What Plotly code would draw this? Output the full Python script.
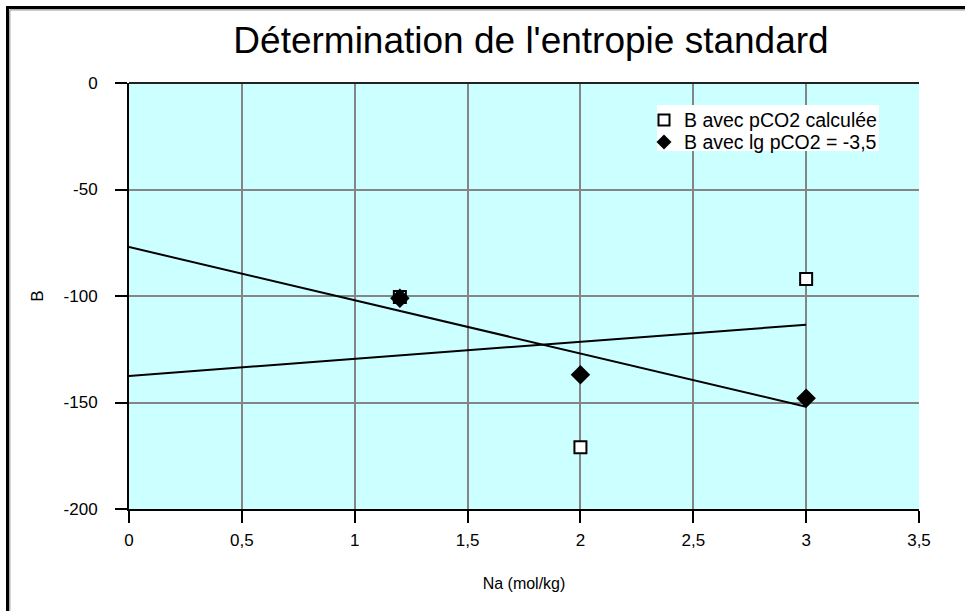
import plotly.graph_objects as go

# ---- data ----
na_values = [1.2, 2.0, 3.0]
b_pco2_calc = [-100.5, -171, -92]
b_lg_pco2 = [-101, -137, -148]

fit_x = [0, 3]
fit_lg_pco2 = [-77, -152]      # trend line for "B avec lg pCO2 = -3,5"
fit_pco2_calc = [-137.5, -113.5]  # trend line for "B avec pCO2 calculée"

series_names = ["B avec pCO2 calculée", "B avec lg pCO2 = -3,5"]

x_ticks = [0, 0.5, 1, 1.5, 2, 2.5, 3, 3.5]
x_tick_labels = ["0", "0,5", "1", "1,5", "2", "2,5", "3", "3,5"]
y_ticks = [0, -50, -100, -150, -200]
y_tick_labels = ["0", "-50", "-100", "-150", "-200"]

FONT = "Liberation Sans, Arial, sans-serif"
W, H = 965, 611
L, R, T, B = 129, 46, 83, 102
PW, PH = W - L - R, H - T - B


def px(xp):
    return (xp - L) / PW


def py(yp):
    return 1 - (yp - T) / PH


fig = go.Figure()

fig.add_trace(go.Scatter(
    x=fit_x, y=fit_lg_pco2, mode="lines",
    line=dict(color="black", width=2), showlegend=False, hoverinfo="skip"))
fig.add_trace(go.Scatter(
    x=fit_x, y=fit_pco2_calc, mode="lines",
    line=dict(color="black", width=2), showlegend=False, hoverinfo="skip"))

fig.add_trace(go.Scatter(
    x=na_values, y=b_pco2_calc, mode="markers", name=series_names[0],
    marker=dict(symbol="square", size=12, color="white",
                line=dict(color="black", width=2))))
fig.add_trace(go.Scatter(
    x=na_values, y=b_lg_pco2, mode="markers", name=series_names[1],
    marker=dict(symbol="diamond", size=15, color="black",
                line=dict(color="black", width=0))))

axis_common = dict(
    showline=True, linecolor="black", linewidth=2,
    ticks="outside", ticklen=12, tickwidth=2, tickcolor="black",
    showgrid=True, gridcolor="#858585", gridwidth=2,
    zeroline=False, tickfont=dict(family=FONT, size=17, color="black"),
)

fig.update_xaxes(range=[0, 3.5], tickvals=x_ticks, ticktext=x_tick_labels,
                 ticklabelstandoff=3,
                 title=dict(text="Na (mol/kg)", font=dict(family=FONT, size=16, color="black"),
                            standoff=28),
                 **axis_common)
fig.update_yaxes(range=[-200, 0], tickvals=y_ticks, ticktext=y_tick_labels,
                 ticklabelstandoff=14,
                 title=dict(text="B", font=dict(family=FONT, size=17, color="black"),
                            standoff=16),
                 **axis_common)

# legend drawn manually (white box, symbols, labels)
lg_left, lg_right, lg_top, lg_bottom = 657, 879, 105, 151
row_y = [120, 142]
sym_x = 664
text_x = 682

shapes = [
    # top border of plot area
    dict(type="line", xref="paper", yref="paper", x0=0, x1=1, y0=1, y1=1,
         line=dict(color="#222", width=2)),
    # legend white box
    dict(type="rect", xref="paper", yref="paper", x0=px(lg_left), x1=px(lg_right),
         y0=py(lg_bottom), y1=py(lg_top), fillcolor="white", line=dict(width=0),
         layer="above"),
    # legend square symbol
    dict(type="rect", xref="paper", yref="paper",
         x0=px(sym_x - 5.5), x1=px(sym_x + 5.5),
         y0=py(row_y[0] + 5.5), y1=py(row_y[0] - 5.5),
         fillcolor="white", line=dict(color="black", width=2), layer="above"),
    # legend diamond symbol
    dict(type="path", xref="paper", yref="paper",
         path=(f"M {px(sym_x)} {py(row_y[1] - 7.5)} L {px(sym_x + 7.5)} {py(row_y[1])} "
               f"L {px(sym_x)} {py(row_y[1] + 7.5)} L {px(sym_x - 7.5)} {py(row_y[1])} Z"),
         fillcolor="black", line=dict(color="black", width=0), layer="above"),
    # outer frame (black + grey)
    dict(type="line", xref="paper", yref="paper", x0=px(7.5), x1=px(7.5),
         y0=py(6), y1=py(700), line=dict(color="black", width=3)),
    dict(type="line", xref="paper", yref="paper", x0=px(6), x1=px(1100),
         y0=py(7.5), y1=py(7.5), line=dict(color="black", width=3)),
    dict(type="line", xref="paper", yref="paper", x0=px(9.8), x1=px(9.8),
         y0=py(9.8), y1=py(700), line=dict(color="#999", width=1.2)),
    dict(type="line", xref="paper", yref="paper", x0=px(9.8), x1=px(1100),
         y0=py(9.8), y1=py(9.8), line=dict(color="#999", width=1.2)),
]

annotations = [
    dict(text=name, xref="paper", yref="paper", x=px(text_x), y=py(yy),
         xanchor="left", yanchor="middle", showarrow=False,
         font=dict(family=FONT, size=19.5, color="black"))
    for name, yy in zip(series_names, row_y)
]

fig.update_layout(
    width=W, height=H,
    margin=dict(l=L, r=R, t=T, b=B),
    paper_bgcolor="white", plot_bgcolor="#CCFFFF",
    font=dict(family=FONT, size=16, color="black"),
    title=dict(text="Détermination de l'entropie standard",
               font=dict(family=FONT, size=37, color="black"),
               x=531 / W, xanchor="center", y=1 - 40 / H, yanchor="middle"),
    shapes=shapes,
    annotations=annotations,
    showlegend=False,
)

fig.write_html("out.html")
